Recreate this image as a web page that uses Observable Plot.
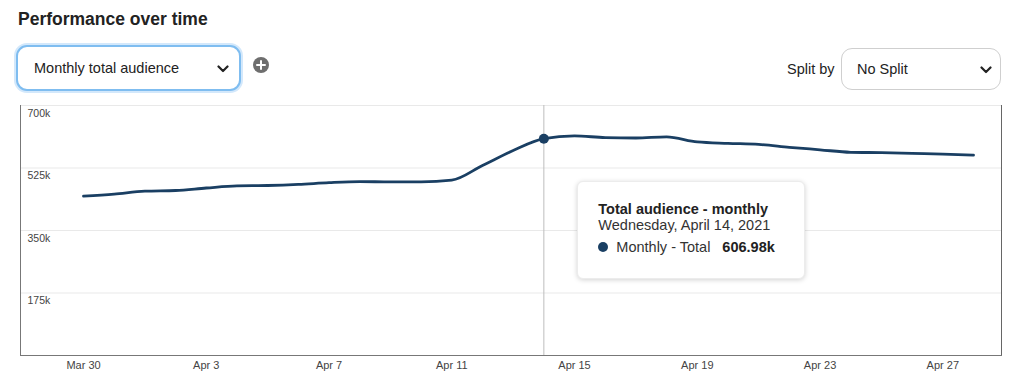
<!DOCTYPE html>
<html><head><meta charset="utf-8">
<script src="https://cdn.jsdelivr.net/npm/d3@7"></script>
<script src="https://cdn.jsdelivr.net/npm/@observablehq/plot@0.6"></script>
<style>
body{margin:0;background:#fff;font-family:"Liberation Sans",Arial,Helvetica,sans-serif;color:#222;width:1024px;height:386px;overflow:hidden;}
#header{position:relative;height:100px;}
#title{position:absolute;left:18px;top:9px;font-size:17.5px;font-weight:bold;color:#222;}
#metric{position:absolute;left:16px;top:45px;width:221px;height:42px;border:2px solid #7fbdf0;box-shadow:0 0 0 2px #d3e8fb;border-radius:11px;background:#fff;}
#metric span{position:absolute;left:16px;top:13px;font-size:14.5px;color:#222;}
.chev{position:absolute;width:12px;height:8px;}
#plus{position:absolute;left:253px;top:57px;width:16px;height:16px;border-radius:50%;background:#6e6e6e;}
#splitlabel{position:absolute;left:787px;top:61px;font-size:14.5px;color:#222;}
#split{position:absolute;left:841px;top:48px;width:158px;height:40px;border:1px solid #cfcfcf;border-radius:11px;background:#fff;}
#split span{position:absolute;left:15px;top:12px;font-size:14.5px;color:#222;}
#chart{position:relative;height:286px;}
#tip{position:absolute;width:226px;height:96px;background:#fff;border:1px solid #ececec;border-radius:6px;box-shadow:0 1px 5px rgba(0,0,0,0.18);}
#tip .t1{position:absolute;left:20px;top:19px;font-size:14.5px;font-weight:bold;color:#222;}
#tip .t2{position:absolute;left:20px;top:35px;font-size:14.5px;color:#333;}
#tip .dot{position:absolute;left:20px;top:60px;width:10px;height:10px;border-radius:50%;}
#tip .t3{position:absolute;left:38px;top:57px;font-size:14.5px;color:#333;}
#tip .t4{position:absolute;left:144px;top:57px;font-size:14.5px;font-weight:bold;color:#222;}
</style></head><body>
<div id="header">
  <div id="title">Performance over time</div>
  <div id="metric"><span>Monthly total audience</span>
    <svg class="chev" style="left:199px;top:18px" viewBox="0 0 12 8"><polyline points="1.5,1.5 6,6 10.5,1.5" fill="none" stroke="#222" stroke-width="2.2" stroke-linecap="round" stroke-linejoin="round"/></svg>
  </div>
  <div id="plus"><svg width="16" height="16" viewBox="0 0 16 16"><path d="M8 4v8M4 8h8" stroke="#fff" stroke-width="2" stroke-linecap="round"/></svg></div>
  <div id="splitlabel">Split by</div>
  <div id="split"><span>No Split</span>
    <svg class="chev" style="left:138px;top:17px" viewBox="0 0 12 8"><polyline points="1.5,1.5 6,6 10.5,1.5" fill="none" stroke="#222" stroke-width="2.2" stroke-linecap="round" stroke-linejoin="round"/></svg>
  </div>
</div>
<div id="chart"></div>
<script>
const dates = ["2021-03-30","2021-03-31","2021-04-01","2021-04-02","2021-04-03","2021-04-04","2021-04-05","2021-04-06","2021-04-07","2021-04-08","2021-04-09","2021-04-10","2021-04-11","2021-04-12","2021-04-13","2021-04-14","2021-04-15","2021-04-16","2021-04-17","2021-04-18","2021-04-19","2021-04-20","2021-04-21","2021-04-22","2021-04-23","2021-04-24","2021-04-25","2021-04-26","2021-04-27","2021-04-28"];
const values = [446000,452000,460000,462000,469000,475000,476000,479000,484000,487000,486000,486000,491000,532000,574000,606980,615000,610000,609000,612000,598000,594000,591000,583000,576000,569000,568000,566000,564000,561000];
const yTicks = [175000,350000,525000,700000];
const xTickLabels = ["2021-03-30","2021-04-03","2021-04-07","2021-04-11","2021-04-15","2021-04-19","2021-04-23","2021-04-27"];
const highlightDate = "2021-04-14";
const highlightValue = 606980;
const tipTitle = "Total audience - monthly";
const tipDate = "Wednesday, April 14, 2021";
const tipSeries = "Monthly - Total";
const tipValue = "606.98k";

const parse = d3.utcParse("%Y-%m-%d");
const data = dates.map((d,i)=>({date: parse(d), value: values[i]}));
const hDate = parse(highlightDate);
const lineColor = "#1a3f63";

const chart = Plot.plot({
  width: 1024, height: 286,
  marginTop: 5, marginBottom: 31, marginLeft: 20, marginRight: 23,
  style: {fontFamily: '"Liberation Sans", Arial, Helvetica, sans-serif', fontSize: "11px", color: "#444", background: "#fff"},
  x: {type: "utc", domain: [data[0].date, data[data.length-1].date], insetLeft: 63, insetRight: 28},
  y: {domain: [0, 700000], axis: null},
  marks: [
    Plot.ruleY(yTicks, {stroke: "#e9e9e9", strokeWidth: 1}),
    Plot.text(yTicks, {y: d=>d, frameAnchor: "left", dx: 7, dy: 8, text: d=>(d/1000)+"k", textAnchor: "start", fontSize: 10.5, fill: "#444"}),
    Plot.axisX({ticks: xTickLabels.map(parse), tickFormat: d3.utcFormat("%b %-d"), tickSize: 0, tickPadding: 6, label: null, fontSize: 11, fill: "#444"}),
    Plot.ruleX([hDate], {stroke: "#bdbdbd", strokeWidth: 1}),
    Plot.frame({anchor: "left", stroke: "#777"}),
    Plot.frame({anchor: "right", stroke: "#666"}),
    Plot.frame({anchor: "bottom", stroke: "#777"}),
    Plot.line(data, {x: "date", y: "value", stroke: lineColor, strokeWidth: 2.8, curve: "monotone-x"}),
    Plot.dot([{date: hDate, value: highlightValue}], {x: "date", y: "value", r: 5, fill: lineColor})
  ]
});
const host = document.getElementById("chart");
host.appendChild(chart);

const sx = chart.scale("x").apply(hDate);
const tip = document.createElement("div");
tip.id = "tip";
tip.style.left = (sx + 34) + "px";
tip.style.top = "81px";
tip.innerHTML = `<div class="t1">${tipTitle}</div><div class="t2">${tipDate}</div><div class="dot" style="background:${lineColor}"></div><div class="t3">${tipSeries}</div><div class="t4">${tipValue}</div>`;
host.appendChild(tip);
</script>
</body></html>
